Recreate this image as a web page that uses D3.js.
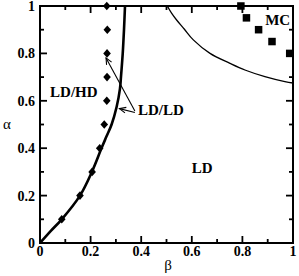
<!DOCTYPE html>
<html>
<head>
<meta charset="utf-8">
<script src="https://cdn.jsdelivr.net/npm/d3@7"></script>
<style>
  html, body { margin: 0; padding: 0; background: #fff; }
  svg { display: block; }
  text { fill: #000; }
  .tick-label { font-family: "Liberation Serif", "Times New Roman", serif; font-weight: bold; font-size: 14px; }
  .phase { font-family: "Liberation Serif", "Times New Roman", serif; font-weight: bold; font-size: 15px; }
  .axis-title { font-family: "Liberation Serif", "Times New Roman", serif; font-size: 15px; }
</style>
</head>
<body>
<script>
// ---- data ----
const majorTicks = [0, 0.2, 0.4, 0.6, 0.8, 1];
const minorTicks = [0.1, 0.3, 0.5, 0.7, 0.9];
const tickLabels = ["0", "0.2", "0.4", "0.6", "0.8", "1"];

// thick mean-field curve (LD/HD vs LD/LD boundary), beta as a function of alpha
const curveAlpha = [0, 0.05, 0.1, 0.2, 0.3, 0.4, 0.45, 0.5, 0.575, 0.65, 0.7, 0.8, 0.9, 1.0];
const curveBeta  = [0, 0.042, 0.086, 0.158, 0.205, 0.243, 0.263, 0.283, 0.303, 0.316, 0.320, 0.327, 0.332, 0.336];

// diamonds (simulation of LD/HD boundary)
const diamondAlpha = [0.1, 0.2, 0.3, 0.4, 0.5, 0.6, 0.7, 0.8, 0.9, 1.0];
const diamondBeta  = [0.086, 0.158, 0.206, 0.236, 0.254, 0.264, 0.265, 0.265, 0.266, 0.264];

// thin curve (LD / MC boundary), alpha as a function of beta
const thinBeta  = [0.503, 0.52, 0.54, 0.57, 0.606, 0.672, 0.751, 0.81, 0.889, 0.968, 1.0];
const thinAlpha = [1.0, 0.97, 0.941, 0.903, 0.857, 0.80, 0.758, 0.730, 0.702, 0.681, 0.675];

// squares (MC simulation)
const mcBeta  = [0.794, 0.816, 0.864, 0.917, 0.987];
const mcAlpha = [1.0, 0.95, 0.90, 0.85, 0.80];

// ---- layout ----
const W = 299, H = 276;
const m = { left: 40, right: 6, top: 6, bottom: 33 };
const x = d3.scaleLinear().domain([0, 1]).range([m.left, W - m.right]);
const y = d3.scaleLinear().domain([0, 1]).range([H - m.bottom, m.top]);

const svg = d3.select("body").append("svg").attr("width", W).attr("height", H);

// clip for the plot
svg.append("clipPath").attr("id", "clip").append("rect")
  .attr("x", x(0)).attr("y", y(1)).attr("width", x(1) - x(0)).attr("height", y(0) - y(1));

const plot = svg.append("g").attr("clip-path", "url(#clip)");

// thin curve
plot.append("path")
  .datum(thinBeta.map((b, i) => [b, thinAlpha[i]]))
  .attr("fill", "none").attr("stroke", "#000").attr("stroke-width", 1.3)
  .attr("d", d3.line().x(d => x(d[0])).y(d => y(d[1])).curve(d3.curveCatmullRom));

// thick curve
plot.append("path")
  .datum(curveAlpha.map((a, i) => [curveBeta[i], a]))
  .attr("fill", "none").attr("stroke", "#000").attr("stroke-width", 2.6)
  .attr("d", d3.line().x(d => x(d[0])).y(d => y(d[1])).curve(d3.curveCatmullRom));

// squares
const sq = 7.5;
svg.append("g").selectAll("rect").data(mcBeta.map((b, i) => [b, mcAlpha[i]])).join("rect")
  .attr("x", d => x(d[0]) - sq / 2).attr("y", d => y(d[1]) - sq / 2)
  .attr("width", sq).attr("height", sq).attr("fill", "#000");

// diamonds
const dw = 3.8, dh = 4.3;
svg.append("g").selectAll("path").data(diamondBeta.map((b, i) => [b, diamondAlpha[i]])).join("path")
  .attr("d", d => {
    const cx = x(d[0]), cy = y(d[1]);
    return `M${cx},${cy - dh}L${cx + dw},${cy}L${cx},${cy + dh}L${cx - dw},${cy}Z`;
  })
  .attr("fill", "#000");

// axes frame + ticks (inward on all sides)
const axes = svg.append("g");
const majorLen = 7, minorLen = 4;
function ticks(vals, len) {
  vals.forEach(v => {
    axes.append("line").attr("x1", x(v)).attr("x2", x(v)).attr("y1", y(0)).attr("y2", y(0) - len);
    axes.append("line").attr("x1", x(v)).attr("x2", x(v)).attr("y1", y(1)).attr("y2", y(1) + len);
    axes.append("line").attr("y1", y(v)).attr("y2", y(v)).attr("x1", x(0)).attr("x2", x(0) + len);
    axes.append("line").attr("y1", y(v)).attr("y2", y(v)).attr("x1", x(1)).attr("x2", x(1) - len);
  });
}
ticks(majorTicks, majorLen);
ticks(minorTicks, minorLen);
axes.selectAll("line").attr("stroke", "#000").attr("stroke-width", 1.8);
axes.append("rect").attr("x", x(0)).attr("y", y(1)).attr("width", x(1) - x(0)).attr("height", y(0) - y(1))
  .attr("fill", "none").attr("stroke", "#000").attr("stroke-width", 2);

// tick labels
svg.append("g").selectAll("text").data(majorTicks).join("text")
  .attr("class", "tick-label")
  .attr("x", d => x(d)).attr("y", y(0) + 13)
  .attr("text-anchor", "middle")
  .text((d, i) => tickLabels[i]);
svg.append("g").selectAll("text").data(majorTicks).join("text")
  .attr("class", "tick-label")
  .attr("x", x(0) - 5).attr("y", d => y(d) + 5)
  .attr("text-anchor", "end")
  .text((d, i) => tickLabels[i]);

// axis titles
svg.append("text").attr("class", "axis-title").attr("x", 7).attr("y", y(0.5) + 4)
  .attr("text-anchor", "middle").text("α");
svg.append("text").attr("class", "axis-title").attr("x", x(0.506)).attr("y", 270)
  .attr("text-anchor", "middle").text("β");

// phase labels
const phase = svg.append("g");
phase.append("text").attr("class", "phase").attr("x", x(0.04)).attr("y", y(0.616)).text("LD/HD");
phase.append("text").attr("class", "phase").attr("x", x(0.387)).attr("y", y(0.54)).text("LD/LD");
phase.append("text").attr("class", "phase").attr("x", x(0.60)).attr("y", y(0.295)).text("LD");
phase.append("text").attr("class", "phase").attr("x", x(0.89)).attr("y", y(0.92)).text("MC");

// arrows from LD/LD label
function arrow(b0, a0, b1, a1) {
  const x0 = x(b0), y0 = y(a0), x1 = x(b1), y1 = y(a1);
  const ang = Math.atan2(y1 - y0, x1 - x0);
  const L = 7, spread = 0.42;
  const g = svg.append("g").attr("stroke", "#000").attr("stroke-width", 1.1).attr("fill", "none");
  g.append("line").attr("x1", x0).attr("y1", y0).attr("x2", x1).attr("y2", y1);
  g.append("path").attr("d",
    `M${x1 - L * Math.cos(ang - spread)},${y1 - L * Math.sin(ang - spread)}L${x1},${y1}L${x1 - L * Math.cos(ang + spread)},${y1 - L * Math.sin(ang + spread)}`);
}
arrow(0.375, 0.557, 0.261, 0.781);
arrow(0.375, 0.551, 0.314, 0.567);
</script>
</body>
</html>
